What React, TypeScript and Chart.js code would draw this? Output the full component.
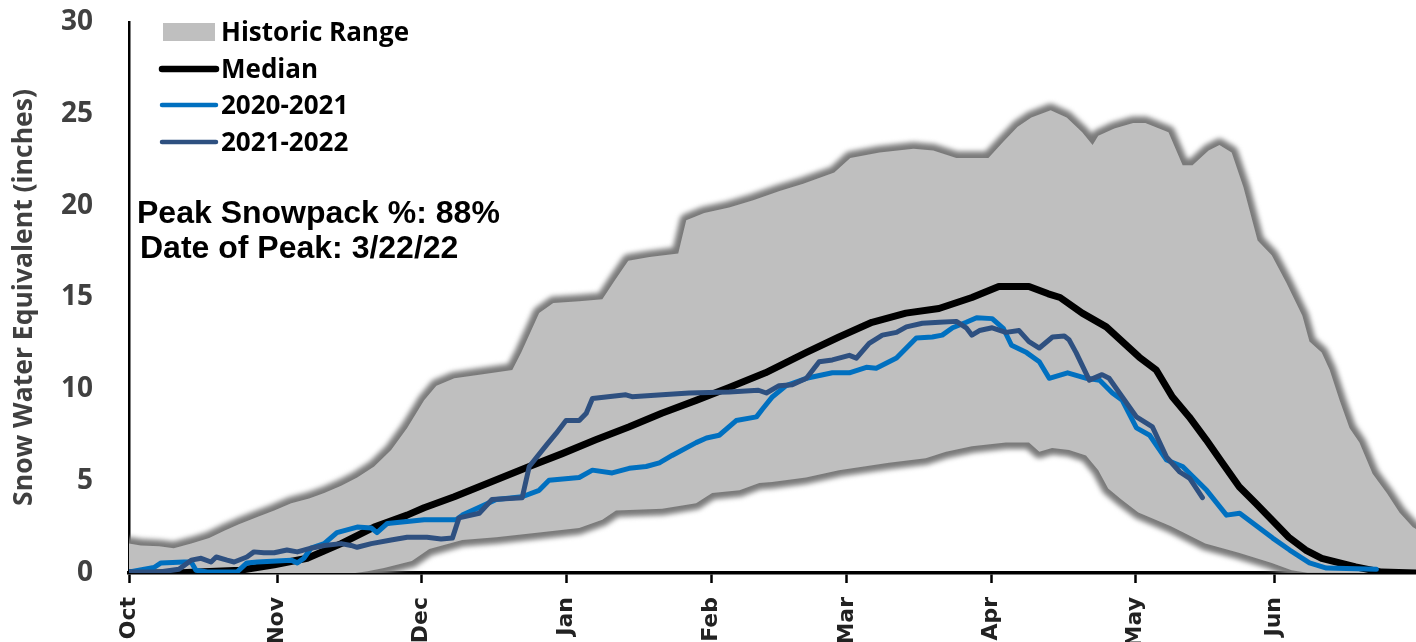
import React, { useEffect, useRef } from 'react';
import { Chart, registerables } from 'chart.js';

Chart.register(...registerables);

// Month tick positions (days since Oct 1) and labels
const monthDays = [0, 31.5, 62, 92.8, 123.5, 152.3, 183, 213.5, 243];
const monthLabels = ['Oct', 'Nov', 'Dec', 'Jan', 'Feb', 'Mar', 'Apr', 'May', 'Jun'];
const yTicks = [0, 5, 10, 15, 20, 25, 30];

// Historic range: maximum
const maxDays = [0, 2.5, 6.4, 9.5, 13.2, 17, 20.2, 23.3, 27.2, 30.8, 34.4, 38.2, 41.4, 45, 48.4, 52, 55.6, 59, 62.6, 65.2, 69, 74.3, 81.3, 83.2, 87, 90, 95.5, 100.4, 103.1, 105.9, 110.4, 116.5, 118.2, 122, 127.3, 132.4, 138, 143, 149.6, 153, 159.2, 166.4, 170.6, 175.5, 182.3, 185.5, 188.5, 191.4, 195.5, 198.9, 202.2, 204.4, 205.6, 209, 213, 215.6, 220.5, 223.5, 225.6, 229, 231.3, 233.9, 236.4, 239.4, 242.4, 245.5, 248.9, 250.4, 253, 254.7, 256.8, 258.9, 261, 263.8, 266.8, 269.5, 272.3, 273];
const maxVals = [1.6, 1.5, 1.45, 1.35, 1.6, 1.9, 2.3, 2.65, 3.05, 3.4, 3.8, 4.05, 4.35, 4.75, 5.2, 5.8, 6.7, 7.9, 9.4, 10.2, 10.6, 10.8, 11.05, 12.0, 14.15, 14.7, 14.8, 14.9, 15.95, 17.0, 17.2, 17.4, 19.2, 19.6, 19.9, 20.3, 20.8, 21.2, 21.8, 22.6, 22.9, 23.1, 23.0, 22.6, 22.6, 23.5, 24.3, 24.8, 25.2, 24.8, 24.0, 23.3, 23.8, 24.2, 24.5, 24.5, 24.0, 22.2, 22.2, 23.0, 23.3, 22.9, 21.0, 18.1, 17.3, 15.8, 14.0, 12.6, 12.0, 11.05, 9.4, 7.9, 7.1, 5.4, 4.35, 3.3, 2.5, 2.4];

// Historic range: minimum
const minDays = [0, 48, 50.6, 54.1, 60, 63.7, 70.7, 77.9, 87, 95.5, 100.4, 103.3, 113.1, 120.3, 123.7, 129.5, 133.7, 136.4, 143.6, 150.6, 161.2, 169, 173.3, 178.8, 186, 190.9, 193.1, 195.8, 199.4, 203, 205.6, 207.7, 210.5, 214.1, 221, 228.3, 235.4, 242.4, 246.6, 250, 273];
const minVals = [0, 0, 0.1, 0.27, 0.65, 1.3, 1.8, 1.95, 2.2, 2.45, 2.9, 3.4, 3.5, 3.8, 4.35, 4.5, 4.9, 4.95, 5.2, 5.6, 6.0, 6.25, 6.6, 6.9, 7.1, 7.1, 6.6, 6.8, 6.7, 6.4, 5.6, 4.6, 4.0, 3.3, 2.55, 1.6, 1.1, 0.55, 0.15, 0.02, 0];

// Median
const medianDays = [0, 10, 14.5, 23.6, 30.8, 37.8, 45, 52, 59, 62.6, 69, 84.9, 91.9, 99, 106, 113, 120.3, 127.3, 135, 143.6, 150.6, 157.6, 164.8, 171.8, 178.8, 184.5, 190.9, 195, 197.5, 202.2, 207.3, 214.3, 217.9, 221.3, 224.9, 228.5, 231.9, 235.5, 239, 242.4, 246, 249.6, 253, 260.2, 265.7, 273];
const medianVals = [0, 0, 0.05, 0.15, 0.45, 0.8, 1.6, 2.5, 3.15, 3.55, 4.15, 5.8, 6.5, 7.25, 7.95, 8.7, 9.4, 10.1, 10.9, 12.0, 12.85, 13.65, 14.15, 14.4, 15.0, 15.6, 15.6, 15.2, 15.0, 14.15, 13.4, 11.75, 11.05, 9.6, 8.5, 7.25, 6.0, 4.7, 3.8, 2.9, 1.95, 1.25, 0.8, 0.33, 0.05, 0];

// 2020-2021
const wy2021Days = [0, 5.3, 6.8, 11.7, 13.2, 14.2, 16.6, 22.9, 25, 27.2, 34.4, 35.7, 37.1, 38.6, 41.4, 44.1, 48.4, 51.4, 52.6, 54.8, 59, 62.6, 69.4, 70.7, 77.9, 83.4, 87, 89.1, 95.5, 98.3, 102.5, 106.1, 109.7, 112.5, 115.2, 120.3, 122.5, 125.2, 128.8, 133.1, 134.3, 136.5, 139.4, 143.7, 149.2, 152.8, 156.4, 158.5, 162.8, 164.9, 167, 170.4, 172.5, 174.7, 177.6, 179.8, 183.1, 185.5, 187.2, 190.4, 193.1, 195.2, 199.1, 203.1, 205.9, 208.6, 210.7, 213.7, 216.5, 220.1, 223.5, 228.6, 232.8, 235.6, 242.6, 246.2, 250.4, 254, 264.6];
const wy2021Vals = [0.05, 0.3, 0.55, 0.6, 0.6, 0.15, 0.05, 0.05, 0.55, 0.6, 0.7, 0.55, 0.8, 1.35, 1.6, 2.2, 2.5, 2.45, 2.2, 2.7, 2.8, 2.9, 2.9, 3.15, 4.0, 4.15, 4.5, 5.05, 5.2, 5.6, 5.45, 5.7, 5.8, 6.0, 6.4, 7.1, 7.35, 7.5, 8.3, 8.5, 8.9, 9.6, 10.2, 10.6, 10.9, 10.9, 11.2, 11.15, 11.7, 12.25, 12.8, 12.85, 12.95, 13.35, 13.65, 13.9, 13.85, 13.3, 12.4, 12.0, 11.5, 10.6, 10.9, 10.6, 10.5, 9.8, 9.4, 7.9, 7.5, 6.15, 5.8, 4.5, 3.15, 3.25, 1.9, 1.25, 0.55, 0.27, 0.2];

// 2021-2022
const wy2022Days = [0, 6.4, 10.6, 13.2, 15.3, 17.4, 18.5, 20.8, 22.3, 25, 26.5, 28.6, 30.8, 33.5, 35.7, 38.6, 41.4, 45, 47.1, 48.4, 51.4, 55.6, 59, 63.2, 66.2, 68.6, 70, 74.3, 77, 83.4, 84.9, 88.5, 90.6, 92.7, 95.5, 97, 98.3, 105.4, 106.7, 113.1, 118.8, 127.3, 133.5, 135.2, 137.9, 140.7, 143.7, 146.4, 149.2, 152.8, 154.3, 157, 159.8, 162.8, 164.9, 168.3, 171.9, 175.5, 177.6, 178.8, 180.4, 183.1, 186, 188.8, 190.9, 193.1, 195.9, 198.4, 199.4, 200.9, 203.7, 206.4, 207.9, 210.1, 213.7, 217.1, 220.1, 222.9, 225, 227.7];
const wy2022Vals = [0.05, 0.05, 0.2, 0.7, 0.8, 0.6, 0.87, 0.7, 0.6, 0.87, 1.15, 1.1, 1.1, 1.25, 1.15, 1.35, 1.5, 1.6, 1.5, 1.4, 1.6, 1.8, 1.95, 1.95, 1.85, 1.9, 3.0, 3.25, 4.0, 4.1, 5.8, 6.95, 7.6, 8.3, 8.3, 8.7, 9.5, 9.7, 9.6, 9.7, 9.8, 9.85, 9.95, 9.8, 10.2, 10.25, 10.6, 11.5, 11.6, 11.85, 11.7, 12.5, 12.95, 13.1, 13.4, 13.6, 13.65, 13.7, 13.35, 12.95, 13.2, 13.35, 13.1, 13.2, 12.6, 12.25, 12.85, 12.9, 12.7, 12.0, 10.5, 10.8, 10.6, 9.8, 8.5, 7.95, 6.3, 5.5, 5.15, 4.1];

const legendItems = ['Historic Range', 'Median', '2020-2021', '2021-2022'];
const noteLines = ['Peak Snowpack %: 88%', 'Date of Peak: 3/22/22'];

const COLOR_MEDIAN = '#000000';
const COLOR_2021 = '#0070C0';
const COLOR_2022 = '#2E5080';
const COLOR_BAND = '#bfbfbf';

const toXY = (days: number[], vals: number[]) => days.map((d, i) => ({ x: d, y: vals[i] }));

const bandPlugin = {
  id: 'historicBand',
  beforeDatasetsDraw(chart: any) {
    const { ctx, chartArea: a, scales } = chart;
    const x = scales.x;
    const y = scales.y;
    const buildPath = () => {
      ctx.beginPath();
      maxDays.forEach((d, i) => {
        const px = x.getPixelForValue(d);
        const py = y.getPixelForValue(maxVals[i]);
        if (i === 0) ctx.moveTo(px, py);
        else ctx.lineTo(px, py);
      });
      for (let i = minDays.length - 1; i >= 0; i--) {
        ctx.lineTo(x.getPixelForValue(minDays[i]), y.getPixelForValue(minVals[i]));
      }
      ctx.closePath();
    };
    ctx.save();
    ctx.beginPath();
    ctx.rect(a.left, a.top, a.right - a.left, a.bottom - a.top);
    ctx.clip();
    // soft dark edge (shadow)
    ctx.save();
    ctx.filter = 'blur(2.5px)';
    buildPath();
    ctx.lineJoin = 'round';
    ctx.strokeStyle = '#7a7a7a';
    ctx.lineWidth = 13;
    ctx.stroke();
    ctx.restore();
    // band fill
    buildPath();
    ctx.fillStyle = COLOR_BAND;
    ctx.fill();
    ctx.restore();
  },
};

const overlayPlugin = {
  id: 'overlayText',
  afterDraw(chart: any) {
    const { ctx } = chart;
    ctx.save();
    // Legend
    ctx.fillStyle = COLOR_BAND;
    ctx.fillRect(163, 23, 52, 18);
    const lineRows = [
      { y: 69, color: COLOR_MEDIAN, w: 6.5 },
      { y: 105, color: COLOR_2021, w: 4.5 },
      { y: 142, color: COLOR_2022, w: 4.5 },
    ];
    ctx.lineCap = 'round';
    lineRows.forEach((r) => {
      ctx.beginPath();
      ctx.strokeStyle = r.color;
      ctx.lineWidth = r.w;
      ctx.moveTo(162, r.y);
      ctx.lineTo(216, r.y);
      ctx.stroke();
    });
    ctx.fillStyle = '#000';
    ctx.font = 'bold 26px "Open Sans"';
    ctx.textBaseline = 'middle';
    ctx.textAlign = 'left';
    const rowsY = [34, 71, 107, 144];
    legendItems.forEach((t, i) => ctx.fillText(t, 221, rowsY[i]));

    // Notes
    ctx.font = 'bold 32px "Liberation Sans"';
    ctx.fillText(noteLines[0], 137, 214);
    ctx.fillText(noteLines[1], 140, 249);
    ctx.restore();
  },
};

export default function App() {
  const canvasRef = useRef<HTMLCanvasElement | null>(null);

  useEffect(() => {
    document.body.style.margin = '0';
    const canvas = canvasRef.current;
    if (!canvas) return;
    const chart = new Chart(canvas, {
      type: 'line',
      data: {
        datasets: [
          {
            label: '2021-2022',
            data: toXY(wy2022Days, wy2022Vals),
            borderColor: COLOR_2022,
            borderWidth: 5,
            pointRadius: 0,
            tension: 0,
            fill: false,
            borderJoinStyle: 'round',
            borderCapStyle: 'round',
          },
          {
            label: '2020-2021',
            data: toXY(wy2021Days, wy2021Vals),
            borderColor: COLOR_2021,
            borderWidth: 5,
            pointRadius: 0,
            tension: 0,
            fill: false,
            borderJoinStyle: 'round',
            borderCapStyle: 'round',
          },
          {
            label: 'Median',
            data: toXY(medianDays, medianVals),
            borderColor: COLOR_MEDIAN,
            borderWidth: 7,
            pointRadius: 0,
            tension: 0,
            fill: false,
            borderJoinStyle: 'round',
            borderCapStyle: 'round',
          },
        ],
      },
      options: {
        responsive: false,
        animation: false,
        devicePixelRatio: 1,
        layout: { padding: { top: 22, right: 0, left: 0, bottom: 0 } },
        plugins: {
          legend: { display: false },
          tooltip: { enabled: false },
          title: { display: false },
        },
        scales: {
          x: {
            type: 'linear',
            min: 0,
            max: 273,
            afterBuildTicks: (scale: any) => {
              scale.ticks = monthDays.map((v) => ({ value: v }));
            },
            afterFit: (scale: any) => {
              scale.height = 69;
              scale.paddingLeft = 0;
              scale.paddingRight = 0;
            },
            grid: {
              display: true,
              drawOnChartArea: false,
              drawTicks: true,
              tickLength: 10,
              tickWidth: 2.5,
              tickColor: '#000',
            },
            border: { display: true, color: '#000', width: 3.5 },
            ticks: {
              autoSkip: false,
              minRotation: 90,
              maxRotation: 90,
              padding: 14,
              color: '#222',
              font: { family: '"DejaVu Sans"', size: 22, weight: 'bold' },
              callback: (v: any) => {
                const i = monthDays.indexOf(Number(v));
                return i >= 0 ? monthLabels[i] : '';
              },
            },
          },
          y: {
            type: 'linear',
            min: 0,
            max: 30,
            afterBuildTicks: (scale: any) => {
              scale.ticks = yTicks.map((v) => ({ value: v }));
            },
            afterFit: (scale: any) => {
              scale.width = 129;
              scale.paddingTop = 0;
              scale.paddingBottom = 0;
            },
            grid: { display: true, drawOnChartArea: false, drawTicks: false },
            border: { display: true, color: '#000', width: 2.5 },
            ticks: {
              padding: 36,
              color: '#404040',
              font: { family: '"Open Sans"', size: 28, weight: 'bold' },
            },
            title: {
              display: true,
              text: 'Snow Water Equivalent (inches)',
              color: '#404040',
              font: { family: '"Open Sans"', size: 26.5, weight: 'bold' },
              padding: { top: 9, bottom: 0 },
            },
          },
        },
      },
      plugins: [bandPlugin, overlayPlugin],
    } as any);
    return () => chart.destroy();
  }, []);

  return (
    <div style={{ position: 'absolute', left: 0, top: 0, width: 1416, height: 642 }}>
      <canvas ref={canvasRef} width={1416} height={642} />
    </div>
  );
}
